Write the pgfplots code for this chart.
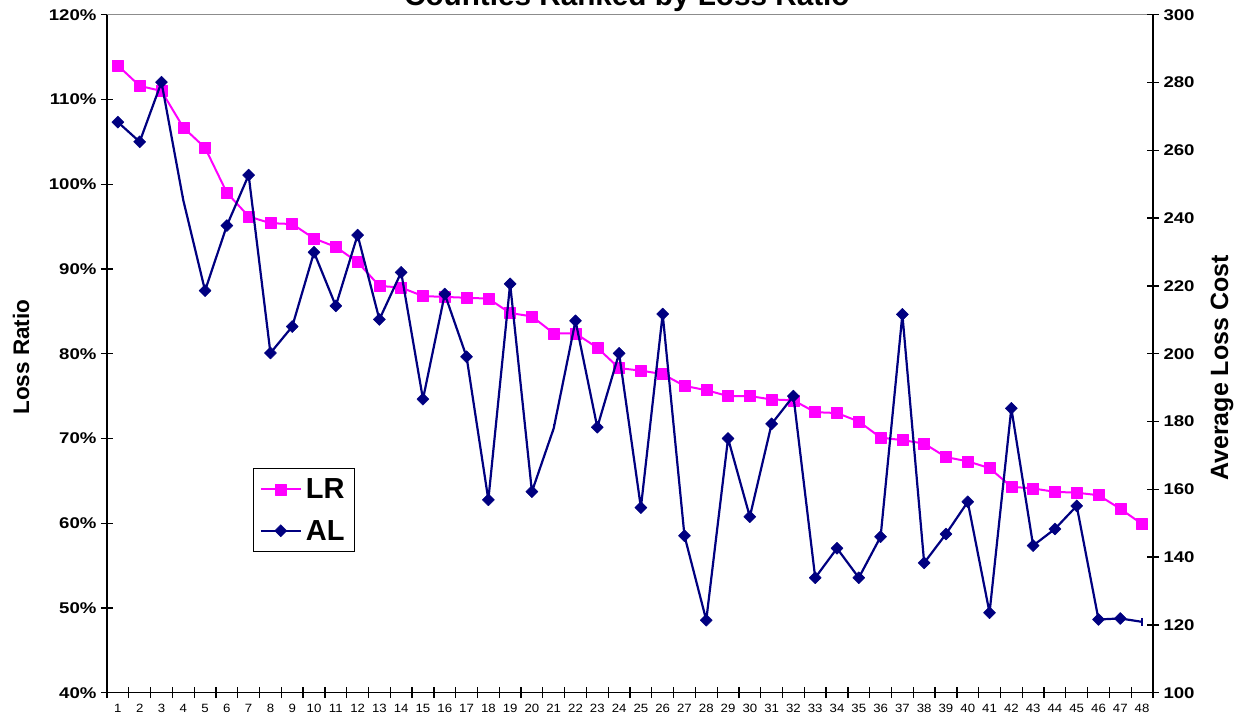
\documentclass[border=0pt]{standalone}
\usepackage{pgfplots}
\pgfplotsset{compat=1.18}
\usepackage{pgfplotstable}
\usepackage{graphicx}
\usepackage{fontspec}
\setmainfont{Liberation Sans}
\definecolor{lrcol}{HTML}{FF00FF}
\definecolor{alcol}{HTML}{000080}

\pgfplotstableread{
x lr al
1 114.0 268.3
2 111.6 262.5
3 111.0 280.1
4 106.7 245.3
5 104.3 218.6
6 99.0 237.8
7 96.2 252.7
8 95.4 200.2
9 95.3 208.0
10 93.6 229.9
11 92.6 214.1
12 90.8 235.0
13 88.0 210.1
14 87.8 224.0
15 86.8 186.6
16 86.7 217.6
17 86.6 199.1
18 86.5 156.9
19 84.8 220.6
20 84.4 159.3
21 82.4 178.0
22 82.4 209.7
23 80.7 178.3
24 78.3 200.1
25 78.0 154.6
26 77.6 211.7
27 76.2 146.3
28 75.7 121.4
29 75.0 175.0
30 75.0 151.9
31 74.6 179.3
32 74.5 187.5
33 73.1 133.9
34 73.0 142.6
35 72.0 133.9
36 70.1 146.0
37 69.8 211.6
38 69.4 138.3
39 67.8 146.8
40 67.3 156.3
41 66.5 123.6
42 64.3 183.9
43 64.1 143.4
44 63.7 148.3
45 63.6 155.1
46 63.3 121.6
47 61.7 121.9
48 59.9 120.9
}\datatable

\begin{document}
\begin{tikzpicture}
\pgfplotsset{
  every axis/.append style={
    scale only axis,
    width=1046pt, height=678pt,
    xmin=0.5, xmax=48.5,
    tick align=center,
    major tick length=12pt,
    minor tick length=11pt,
    every tick/.style={black, line width=1.3pt},
    every minor tick/.style={black, line width=1.3pt},
    /pgf/number format/assume math mode=true,
    clip=false,
  },
  legend image code/.code={%
    \draw[mark repeat=2,mark phase=2,#1] plot coordinates {(0pt,0pt) (20pt,0pt) (40pt,0pt)};},
}
\begin{axis}[
  at={(0,0)}, anchor=south west,
  axis x line*=bottom, axis y line*=left,
  x axis line style={-, line width=1.3pt},
  y axis line style={-, line width=1.3pt},
  ymin=40, ymax=120,
  ytick={40,50,...,120},
  yticklabel={\scalebox{1.2}[1]{\pgfmathprintnumber{\tick}\%}},
  yticklabel style={font=\bfseries\fontsize{15.5}{16}\selectfont, xshift=-1pt},
  xtick={1,...,48},
  major x tick style={draw=none},
  minor xtick={0.5,1.5,...,48.5},
  xticklabel={\scalebox{1.1}[1]{\pgfmathprintnumber{\tick}}},
  xticklabel style={font=\fontsize{12}{12}\selectfont, yshift=-2pt},
  ylabel={Loss Ratio},
  every axis y label/.style={at={(axis description cs:-0.0822,0.495)},rotate=90,anchor=center,font=\bfseries\fontsize{22.5}{24}\selectfont},
  title={Counties Ranked by Loss Ratio},
  every axis title/.style={at={(axis description cs:0.497,1)},anchor=base,yshift=9.2pt,font=\bfseries\fontsize{29.7}{30}\selectfont},
  legend style={at={(axis description cs:0.1396,0.3314)}, anchor=north west,
    draw=black, line width=1.3pt, font=\bfseries\fontsize{29}{30}\selectfont,
    inner xsep=6pt, inner ysep=9pt, row sep=18pt, legend cell align=left,
    nodes={inner xsep=4pt, inner ysep=1pt}},
]
\draw[gray!90, line width=1.3pt] (rel axis cs:0,1) -- (rel axis cs:1,1);
\addplot[lrcol, line width=2pt, line join=round, mark=square*, mark size=5.5pt, mark options={solid, fill=lrcol, line width=0.5pt}] table[x=x, y=lr] {\datatable};
\addlegendentry{LR}
\addlegendimage{alcol, line width=2.2pt, mark=square*, mark size=4.25pt, mark options={solid, rotate=45, fill=alcol, line width=0.5pt}}
\addlegendentry{AL}
\end{axis}
\begin{axis}[
  at={(0,0)}, anchor=south west,
  axis x line=none, axis y line*=right,
  y axis line style={-, line width=1.3pt},
  ymin=100, ymax=300,
  ytick={100,120,...,300},
  yticklabel={\scalebox{1.2}[1]{\pgfmathprintnumber{\tick}}},
  yticklabel style={font=\bfseries\fontsize{15.5}{16}\selectfont, xshift=1pt},
  ylabel={Average Loss Cost},
  every axis y label/.style={at={(axis description cs:1.066,0.479)},rotate=90,anchor=center,font=\bfseries\fontsize{25}{26}\selectfont},
]
\addplot[alcol, line width=2.2pt, line join=round, mark=square*, mark size=4.25pt,
  mark indices={1,2,3,5,6,7,8,9,10,11,12,13,14,15,16,17,18,19,20,22,23,24,25,26,27,28,29,30,31,32,33,34,35,36,37,38,39,40,41,42,43,44,45,46,47},
  mark options={solid, rotate=45, fill=alcol, line width=0.5pt}] table[x=x, y=al] {\datatable};
\addplot[alcol, only marks, mark=|, mark size=4pt, mark indices={4,21,48}, mark options={line width=1.5pt}, forget plot] table[x=x, y=al] {\datatable};
\end{axis}
\pgfresetboundingbox
\useasboundingbox (-107pt,-30.3pt) rectangle (1142pt,692.7pt);
\end{tikzpicture}
\end{document}
